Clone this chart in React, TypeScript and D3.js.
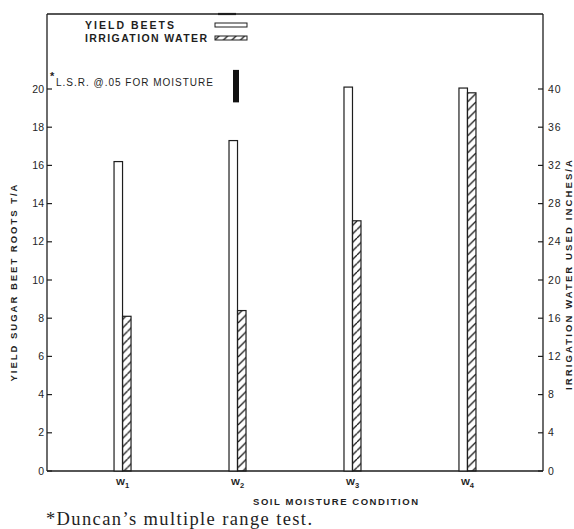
import React from "react";
import * as d3 from "d3";

const categories = ["1", "2", "3", "4"];
const yieldBeets = [16.2, 17.3, 20.1, 20.05]; // T/A
const irrigationWater = [16.2, 16.8, 26.2, 39.6]; // inches/A
const leftTicks = [0, 2, 4, 6, 8, 10, 12, 14, 16, 18, 20];
const rightTicks = [0, 4, 8, 12, 16, 20, 24, 28, 32, 36, 40];
const lsrRange = [19.3, 21.0]; // L.S.R. bar on left scale

const W = 574, H = 529;
const L = 47, R = 543, T = 14, B = 471;
const ink = "#1e1e1e";
const font = "'Liberation Sans', Arial, sans-serif";

export default function App() {
  const x = d3.scalePoint<string>().domain(categories).range([L, R]).padding(0.657);
  const yL = d3.scaleLinear().domain([0, 20]).range([B, 89]);
  const yR = d3.scaleLinear().domain([0, 40]).range([B, 89]);
  const bw = 8.5;

  return (
    <svg width={W} height={H} style={{ position: "absolute", left: 0, top: 0, background: "#fff" }}>
      <defs>
        <pattern id="hatch" patternUnits="userSpaceOnUse" width={bw} height={8.5}>
          <line x1={0} y1={8.5} x2={bw} y2={0} stroke={ink} strokeWidth={1.3} />
          <line x1={-bw} y1={8.5} x2={0} y2={0} stroke={ink} strokeWidth={1.3} />
          <line x1={bw} y1={8.5} x2={2 * bw} y2={0} stroke={ink} strokeWidth={1.3} />
        </pattern>
      </defs>

      {/* frame */}
      <line x1={L} y1={T} x2={R} y2={T} stroke={ink} strokeWidth={1.3} />
      <line x1={218} y1={T} x2={236} y2={T} stroke={ink} strokeWidth={2.2} />
      <line x1={L} y1={T} x2={L} y2={B} stroke={ink} strokeWidth={1.3} />
      <line x1={R} y1={T} x2={R} y2={B} stroke={ink} strokeWidth={1.3} />
      <line x1={L} y1={B} x2={R} y2={B} stroke={ink} strokeWidth={1.5} />

      {/* left ticks */}
      {leftTicks.map((t) => (
        <g key={"l" + t}>
          <line x1={L} x2={L + 5} y1={yL(t)} y2={yL(t)} stroke={ink} strokeWidth={1.2} />
          <text x={44} y={yL(t)} dy="0.35em" textAnchor="end" fontFamily={font} fontSize={10.5} fill={ink}>
            {t}
          </text>
        </g>
      ))}
      {/* right ticks */}
      {rightTicks.map((t) => (
        <g key={"r" + t}>
          <line x1={R - 5} x2={R} y1={yR(t)} y2={yR(t)} stroke={ink} strokeWidth={1.2} />
          <text x={548} y={yR(t)} dy="0.35em" textAnchor="start" fontFamily={font} fontSize={10.5} fill={ink} letterSpacing={0.8}>
            {t}
          </text>
        </g>
      ))}

      {/* bars */}
      {categories.map((c, i) => {
        const cx = x(c)!;
        return (
          <g key={c}>
            <rect x={cx - bw} y={yL(yieldBeets[i])} width={bw} height={B - yL(yieldBeets[i])} fill="#fff" stroke={ink} strokeWidth={1.2} />
            <rect x={cx} y={yR(irrigationWater[i])} width={bw} height={B - yR(irrigationWater[i])} fill="url(#hatch)" stroke={ink} strokeWidth={1.2} />
            <text x={cx} y={485} textAnchor="middle" fontFamily={font} fontWeight="bold" fontSize={9.5} fill={ink}>
              W<tspan fontSize={7.5} dy={3}>{c}</tspan>
            </text>
          </g>
        );
      })}

      {/* legend */}
      <text x={85} y={29} fontFamily={font} fontWeight="bold" fontSize={10.5} fill={ink} textLength={89} lengthAdjust="spacing">YIELD BEETS</text>
      <rect x={215} y={23} width={32} height={4} fill="#fff" stroke={ink} strokeWidth={1} />
      <text x={85} y={42} fontFamily={font} fontWeight="bold" fontSize={10.5} fill={ink} textLength={122} lengthAdjust="spacing">IRRIGATION WATER</text>
      <rect x={215} y={36} width={32} height={4} fill="url(#hatch)" stroke={ink} strokeWidth={1} />

      {/* LSR */}
      <text x={50} y={80} fontFamily={font} fontWeight="bold" fontSize={11} fill={ink}>*</text>
      <text x={56} y={86} fontFamily={font} fontSize={10} fill={ink} textLength={157} lengthAdjust="spacing">L.S.R. @.05 FOR MOISTURE</text>
      <rect x={233} y={yL(lsrRange[1])} width={6} height={yL(lsrRange[0]) - yL(lsrRange[1])} fill="#111" />

      {/* axis titles */}
      <text transform="translate(17,283) rotate(-90)" textAnchor="middle" fontFamily={font} fontWeight="bold" fontSize={9.5} fill={ink} textLength={197} lengthAdjust="spacing">
        YIELD SUGAR BEET ROOTS T/A
      </text>
      <text transform="translate(572,275) rotate(-90)" textAnchor="middle" fontFamily={font} fontWeight="bold" fontSize={9.5} fill={ink} textLength={230} lengthAdjust="spacing">
        IRRIGATION WATER USED INCHES/A
      </text>
      <text x={253} y={505} fontFamily={font} fontWeight="bold" fontSize={9.5} fill={ink} textLength={165} lengthAdjust="spacing">
        SOIL MOISTURE CONDITION
      </text>

      {/* footnote */}
      <text x={46} y={525} fontFamily="'Liberation Serif', 'Times New Roman', serif" fontSize={18.5} fill={ink} textLength={266} lengthAdjust="spacing">
        *Duncan’s multiple range test.
      </text>
    </svg>
  );
}
